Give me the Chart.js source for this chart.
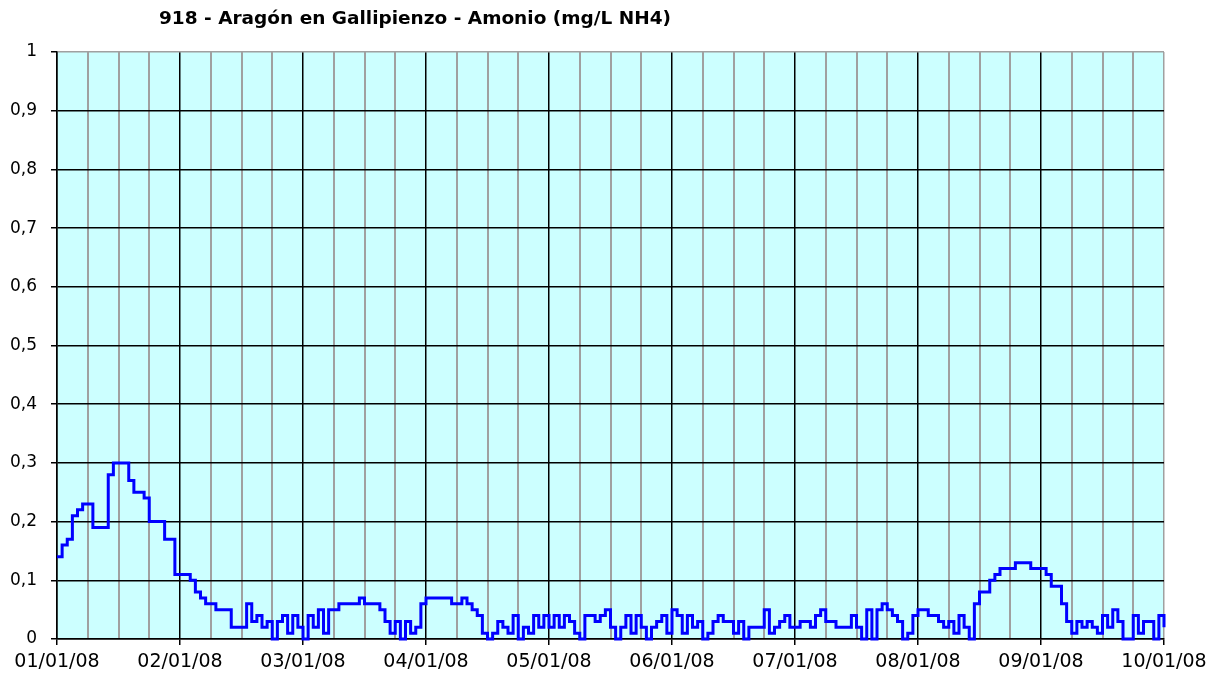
<!DOCTYPE html>
<html>
<head>
<meta charset="utf-8">
<script src="https://cdn.jsdelivr.net/npm/chart.js@4.4.0/dist/chart.umd.min.js"></script>
<style>
  html, body { margin: 0; padding: 0; background: #fff; }
</style>
</head>
<body>
<canvas id="chart" width="1221" height="677"></canvas>
<script>
// Amonio (mg/L NH4), hourly readings, one array per day
var titleText = '918 - Aragón en Gallipienzo - Amonio (mg/L NH4)';
var xTickLabels = ['01/01/08', '02/01/08', '03/01/08', '04/01/08', '05/01/08',
                   '06/01/08', '07/01/08', '08/01/08', '09/01/08', '10/01/08'];
var yTickLabels = ['0', '0,1', '0,2', '0,3', '0,4', '0,5', '0,6', '0,7', '0,8', '0,9', '1'];

var day1 = [0.14, 0.16, 0.17, 0.21, 0.22, 0.23, 0.23, 0.19, 0.19, 0.19, 0.28, 0.30,
            0.30, 0.30, 0.27, 0.25, 0.25, 0.24, 0.20, 0.20, 0.20, 0.17, 0.17, 0.11];
var day2 = [0.11, 0.11, 0.10, 0.08, 0.07, 0.06, 0.06, 0.05, 0.05, 0.05, 0.02, 0.02,
            0.02, 0.06, 0.03, 0.04, 0.02, 0.03, 0.00, 0.03, 0.04, 0.01, 0.04, 0.02];
var day3 = [0.00, 0.04, 0.02, 0.05, 0.01, 0.05, 0.05, 0.06, 0.06, 0.06, 0.06, 0.07,
            0.06, 0.06, 0.06, 0.05, 0.03, 0.01, 0.03, 0.00, 0.03, 0.01, 0.02, 0.06];
var day4 = [0.07, 0.07, 0.07, 0.07, 0.07, 0.06, 0.06, 0.07, 0.06, 0.05, 0.04, 0.01,
            0.00, 0.01, 0.03, 0.02, 0.01, 0.04, 0.00, 0.02, 0.01, 0.04, 0.02, 0.04];
var day5 = [0.02, 0.04, 0.02, 0.04, 0.03, 0.01, 0.00, 0.04, 0.04, 0.03, 0.04, 0.05,
            0.02, 0.00, 0.02, 0.04, 0.01, 0.04, 0.02, 0.00, 0.02, 0.03, 0.04, 0.01];
var day6 = [0.05, 0.04, 0.01, 0.04, 0.02, 0.03, 0.00, 0.01, 0.03, 0.04, 0.03, 0.03,
            0.01, 0.03, 0.00, 0.02, 0.02, 0.02, 0.05, 0.01, 0.02, 0.03, 0.04, 0.02];
var day7 = [0.02, 0.03, 0.03, 0.02, 0.04, 0.05, 0.03, 0.03, 0.02, 0.02, 0.02, 0.04,
            0.02, 0.00, 0.05, 0.00, 0.05, 0.06, 0.05, 0.04, 0.03, 0.00, 0.01, 0.04];
var day8 = [0.05, 0.05, 0.04, 0.04, 0.03, 0.02, 0.03, 0.01, 0.04, 0.02, 0.00, 0.06,
            0.08, 0.08, 0.10, 0.11, 0.12, 0.12, 0.12, 0.13, 0.13, 0.13, 0.12, 0.12];
var day9 = [0.12, 0.11, 0.09, 0.09, 0.06, 0.03, 0.01, 0.03, 0.02, 0.03, 0.02, 0.01,
            0.04, 0.02, 0.05, 0.03, 0.00, 0.00, 0.04, 0.01, 0.03, 0.03, 0.00, 0.04];
var lastValue = [0.02];

var values = [].concat(day1, day2, day3, day4, day5, day6, day7, day8, day9, lastValue);
var points = values.map(function (v, i) { return { x: i, y: v }; });
var hoursTotal = (xTickLabels.length - 1) * 24;

var fontFamily = '"DejaVu Sans", Verdana, sans-serif';

// plot area background + title
var plotBg = {
    id: 'plotBg',
    beforeDraw: function (chart) {
        var a = chart.chartArea, ctx = chart.ctx;
        ctx.save();
        ctx.fillStyle = '#CCFFFF';
        ctx.fillRect(a.left, a.top, a.right - a.left, a.bottom - a.top);
        ctx.restore();
    },
    afterDraw: function (chart) {
        var ctx = chart.ctx;
        ctx.save();
        ctx.font = 'bold 18.5px ' + fontFamily;
        ctx.fillStyle = '#000';
        ctx.textAlign = 'center';
        ctx.textBaseline = 'middle';
        ctx.fillText(titleText, 415, 19);
        ctx.restore();
    }
};

new Chart(document.getElementById('chart'), {
    type: 'line',
    data: {
        datasets: [{
            data: points,
            borderColor: '#0000FF',
            borderWidth: 3,
            pointRadius: 0,
            stepped: 'before',
            fill: false,
            clip: 4
        }]
    },
    options: {
        responsive: false,
        animation: false,
        layout: { padding: { top: 52, right: 57, bottom: 0, left: 0 } },
        plugins: {
            legend: { display: false },
            title: { display: false },
            tooltip: { enabled: false }
        },
        scales: {
            x: {
                type: 'linear',
                min: 0,
                max: hoursTotal,
                ticks: {
                    stepSize: 6,
                    autoSkip: false,
                    maxRotation: 0,
                    padding: 6,
                    color: '#000',
                    font: { family: fontFamily, size: 19 },
                    callback: function (v) { return v % 24 === 0 ? xTickLabels[v / 24] : ''; }
                },
                grid: {
                    lineWidth: function (c) {
                        var v = c.tick ? c.tick.value : 0;
                        return v % 24 === 0 ? 1.5 : 2;
                    },
                    tickLength: 6,
                    tickWidth: 1.5,
                    color: function (c) {
                        var v = c.tick ? c.tick.value : 0;
                        return (v % 24 === 0 && v !== hoursTotal) ? '#000' : '#A0A0A0';
                    },
                    tickColor: function (c) {
                        var v = c.tick ? c.tick.value : 0;
                        return v % 24 === 0 ? '#000' : 'rgba(0,0,0,0)';
                    }
                },
                border: { color: '#000', width: 1.5 },
                afterFit: function (s) { s.height = 38; }
            },
            y: {
                min: 0,
                max: 1,
                ticks: {
                    stepSize: 0.1,
                    padding: 14,
                    color: '#000',
                    font: { family: fontFamily, size: 17 },
                    callback: function (v, i) { return yTickLabels[i]; }
                },
                grid: {
                    lineWidth: 1.5,
                    tickLength: 6,
                    tickColor: '#000',
                    color: function (c) {
                        var v = c.tick ? c.tick.value : 0;
                        return v > 0.999 ? '#A0A0A0' : '#000';
                    }
                },
                border: { color: '#000', width: 1.5 },
                afterFit: function (s) { s.width = 57; }
            }
        }
    },
    plugins: [plotBg]
});
</script>
</body>
</html>
